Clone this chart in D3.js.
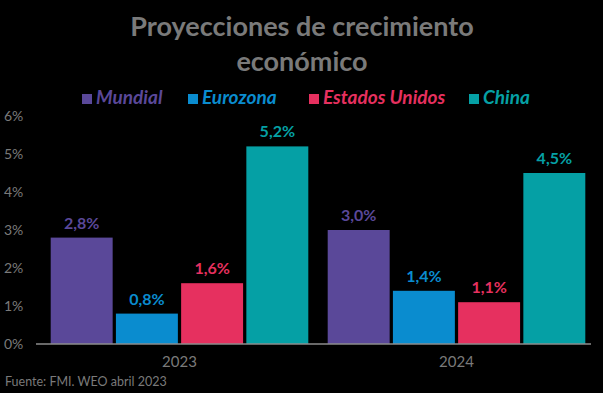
<!DOCTYPE html>
<html>
<head>
<meta charset="utf-8">
<script src="https://cdn.jsdelivr.net/npm/d3@7"></script>
<style>
  body { margin: 0; background: #000; }
  svg { display: block; font-family: Lato, "Open Sans", sans-serif; }
</style>
</head>
<body>
<svg id="chart" width="603" height="393"></svg>
<script>
// data
var years = ["2023", "2024"];
var series = ["Mundial", "Eurozona", "Estados Unidos", "China"];
var colors = ["#5a4899", "#0a8ccf", "#e6305f", "#05a0a5"];
var values = {
  "2023": [2.8, 0.8, 1.6, 5.2],
  "2024": [3.0, 1.4, 1.1, 4.5]
};
var yTicks = [0, 1, 2, 3, 4, 5, 6];

var svg = d3.select("#chart");
var W = 603, H = 393;
svg.append("rect").attr("width", W).attr("height", H).attr("fill", "#000");

var m = { left: 41, right: 8, top: 116, bottom: 49 };

var x0 = d3.scaleBand().domain(years).range([m.left, W - m.right]).paddingInner(0.07).paddingOuter(0.035);
var x1 = d3.scaleBand().domain(series).range([0, x0.bandwidth()]).paddingInner(0.05);
var y = d3.scaleLinear().domain([0, 6]).range([H - m.bottom, m.top]);

// title
svg.append("text").attr("x", 302).attr("y", 36).attr("text-anchor", "middle")
  .attr("fill", "#7a7a7a").attr("font-size", 27).attr("font-weight", "bold").text("Proyecciones de crecimiento");
svg.append("text").attr("x", 302).attr("y", 71).attr("text-anchor", "middle")
  .attr("fill", "#7a7a7a").attr("font-size", 27).attr("font-weight", "bold").text("económico");

// legend
var legendX = [82, 188, 309, 469];
var lg = svg.selectAll(".lg").data(series).enter().append("g")
  .attr("transform", function (d, i) { return "translate(" + legendX[i] + ",92)"; });
lg.append("rect").attr("width", 10).attr("height", 10).attr("y", 2)
  .attr("fill", function (d, i) { return colors[i]; });
lg.append("text").attr("x", 14).attr("y", 12).attr("font-size", 19)
  .attr("font-style", "italic").attr("font-weight", "bold")
  .attr("fill", function (d, i) { return colors[i]; }).text(function (d) { return d; });

// y axis labels (no line)
svg.selectAll(".yt").data(yTicks).enter().append("text")
  .attr("x", 4).attr("y", function (d) { return y(d) + 5; })
  .attr("fill", "#7a7a7a").attr("font-size", 14)
  .text(function (d) { return d + "%"; });

// bars
var groups = svg.selectAll(".grp").data(years).enter().append("g")
  .attr("transform", function (d) { return "translate(" + x0(d) + ",0)"; });

groups.each(function (yr) {
  var g = d3.select(this);
  var rows = series.map(function (s, i) { return { s: s, v: values[yr][i], c: colors[i] }; });
  g.selectAll("rect").data(rows).enter().append("rect")
    .attr("x", function (d) { return x1(d.s); })
    .attr("y", function (d) { return y(d.v); })
    .attr("width", x1.bandwidth())
    .attr("height", function (d) { return y(0) - y(d.v); })
    .attr("fill", function (d) { return d.c; });
  g.selectAll("text").data(rows).enter().append("text")
    .attr("x", function (d) { return x1(d.s) + x1.bandwidth() / 2; })
    .attr("y", function (d) { return y(d.v) - 9; })
    .attr("text-anchor", "middle").attr("font-size", 16).attr("font-weight", "bold")
    .attr("fill", function (d) { return d.c; })
    .text(function (d) { return d3.format(".1f")(d.v).replace(".", ",") + "%"; });
});

// x axis
var xAxis = svg.append("g").attr("transform", "translate(0," + y(0) + ")")
  .call(d3.axisBottom(x0).tickSize(0).tickPadding(12));
xAxis.select(".domain").attr("stroke", "#8c8c8c").attr("stroke-width", 1.5)
  .attr("d", "M36,0H591");
xAxis.selectAll("text").attr("fill", "#7a7a7a").attr("font-size", 15)
  .attr("font-family", "Lato, 'Open Sans', sans-serif");

// source
svg.append("text").attr("x", 5).attr("y", 386).attr("fill", "#7a7a7a")
  .attr("font-size", 12.5).text("Fuente: FMI. WEO abril 2023");
</script>
</body>
</html>
